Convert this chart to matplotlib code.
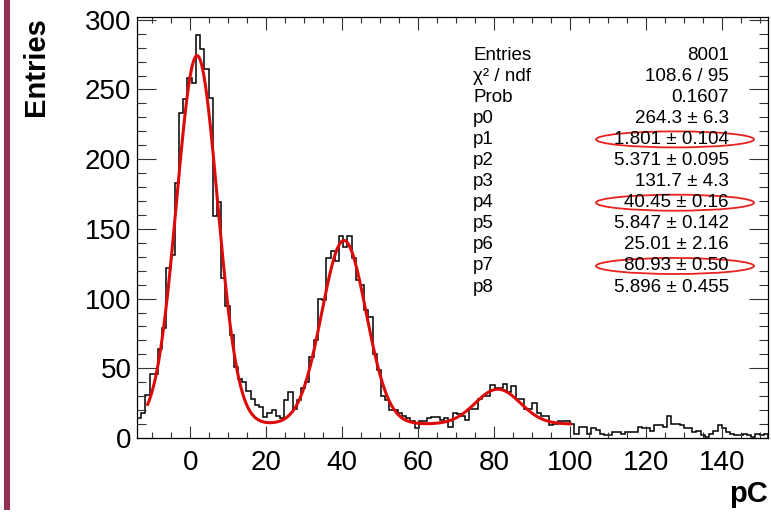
import numpy as np
import matplotlib
matplotlib.use('Agg')
import matplotlib.pyplot as plt
from matplotlib.patches import Ellipse, Rectangle
from matplotlib.ticker import MultipleLocator

plt.rcParams['font.family'] = ['Liberation Sans', 'DejaVu Sans']

# histogram contents, 150 bins
counts = [14, 18, 31, 46, 46, 64, 79, 122, 131, 183,
          233, 243, 258, 255, 289, 279, 265, 244, 159, 169,
          115, 95, 74, 51, 42, 40, 34, 28, 24, 22,
          15, 18, 20, 16, 14, 27, 33, 21, 27, 36,
          40, 58, 70, 100, 99, 129, 134, 127, 145, 137,
          145, 129, 113, 110, 92, 87, 60, 49, 30, 27,
          20, 20, 18, 16, 14, 12, 7, 12, 12, 14,
          15, 15, 13, 14, 8, 18, 17, 16, 13, 21,
          21, 28, 30, 30, 38, 36, 36, 39, 33, 37,
          28, 28, 21, 21, 25, 18, 16, 16, 9, 10,
          12, 12, 12, 10, 3, 8, 8, 3, 7, 6,
          3, 2, 2, 4, 4, 3, 4, 4, 4, 8,
          7, 7, 5, 9, 9, 8, 16, 10, 10, 9,
          7, 7, 4, 5, 2, 1, 3, 5, 9, 7,
          4, 3, 2, 2, 3, 2, 1, 3, 2, 3]
x_min, x_max = -14, 152

# fit: three gaussians (p0..p8) on a flat level seen in the plot
fit_pars = [264.3, 1.801, 5.371, 131.7, 40.45, 5.847, 25.01, 80.93, 5.896]
fit_level = 10
fit_range = (-11.2, 100)

stat_names = ['Entries', 'χ² / ndf', 'Prob', 'p0', 'p1', 'p2', 'p3',
              'p4', 'p5', 'p6', 'p7', 'p8']
stat_values = ['8001', '108.6 / 95', '0.1607', '264.3 ± 6.3', '1.801 ± 0.104',
               '5.371 ± 0.095', '131.7 ± 4.3', '40.45 ± 0.16', '5.847 ± 0.142',
               '25.01 ± 2.16', '80.93 ± 0.50', '5.896 ± 0.455']
circled = ['p1', 'p4', 'p7']

W, H = 771, 514
fig = plt.figure(figsize=(W/100, H/100), dpi=100)
ax = fig.add_axes([137/W, 76/H, 631/W, 421/H])

edges = np.linspace(x_min, x_max, len(counts)+1)
ax.stairs(counts, edges, color='black', linewidth=1.1, baseline=0)

xf = np.linspace(fit_range[0], fit_range[1], 800)
yf = np.full_like(xf, fit_level, dtype=float)
for k in range(0, 9, 3):
    yf += fit_pars[k]*np.exp(-0.5*((xf-fit_pars[k+1])/fit_pars[k+2])**2)
ax.plot(xf, yf, color='#dd0a0a', linewidth=2.2)

ax.set_xlim(x_min, x_max)
ax.set_ylim(0, 302)
ax.xaxis.set_major_locator(MultipleLocator(20))
ax.xaxis.set_minor_locator(MultipleLocator(5))
ax.yaxis.set_major_locator(MultipleLocator(50))
ax.yaxis.set_minor_locator(MultipleLocator(10))
ax.tick_params(which='both', direction='in', top=True, right=True,
               labelsize=20, width=0.8, color='#333333')
ax.tick_params(axis='x', which='major', length=9, pad=9)
ax.tick_params(axis='x', which='minor', length=4.5)
ax.tick_params(axis='y', which='major', length=13.5, pad=4)
ax.tick_params(axis='y', which='minor', length=6.8)
for s in ax.spines.values():
    s.set_linewidth(0.9)

fig.text(36/W, 1-67/H, 'Entries', rotation=90, fontsize=21,
         fontweight='bold', ha='center', va='center')
fig.text(768/W, 1-494/H, 'pC', fontsize=21, fontweight='bold',
         ha='right', va='center')

# stats box
for i in range(len(stat_names)):
    y = 1 - (55 + 21.1*i)/H
    fig.text(473/W, y, stat_names[i], fontsize=13.5, va='center')
    fig.text(729/W, y, stat_values[i], fontsize=13.5, va='center', ha='right')
    if stat_names[i] in circled:
        fig.add_artist(Ellipse((675/W, y), 158/W, 16/H, transform=fig.transFigure,
                               fill=False, edgecolor='#e8221f', linewidth=1.3))

# side bar
fig.add_artist(Rectangle((4/W, 4/H), 6/W, 1, transform=fig.transFigure,
                         facecolor='#952f52', edgecolor='none'))

plt.savefig('out.png', dpi=100)
